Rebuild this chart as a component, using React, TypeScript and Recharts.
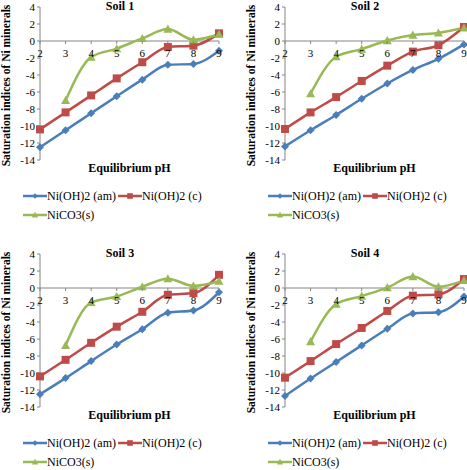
import React from 'react';
import { LineChart, Line, XAxis, YAxis, ReferenceLine, Legend } from 'recharts';

const pH = [2, 3, 4, 5, 6, 7, 8, 9];
const yTicks = [-14, -12, -10, -8, -6, -4, -2, 0, 2, 4];

const soil1Am = [-12.5, -10.5, -8.5, -6.5, -4.55, -2.8, -2.7, -1.15];
const soil1C = [-10.4, -8.4, -6.4, -4.4, -2.5, -0.7, -0.55, 0.9];
const soil1Co3 = [null, -7.0, -1.9, -0.9, 0.3, 1.4, 0.15, 0.8];

const soil2Am = [-12.4, -10.5, -8.7, -6.8, -5.0, -3.4, -2.1, -0.4];
const soil2C = [-10.35, -8.4, -6.6, -4.7, -2.9, -1.25, -0.5, 1.65];
const soil2Co3 = [null, -6.2, -1.85, -0.95, 0.05, 0.7, 0.95, 1.55];

const soil3Am = [-12.5, -10.6, -8.6, -6.65, -4.85, -2.9, -2.65, -0.5];
const soil3C = [-10.4, -8.45, -6.45, -4.55, -2.8, -0.8, -0.6, 1.55];
const soil3Co3 = [null, -6.75, -1.7, -1.0, 0.15, 1.1, 0.25, 0.8];

const soil4Am = [-12.7, -10.65, -8.7, -6.75, -4.8, -3.0, -2.85, -1.0];
const soil4C = [-10.55, -8.6, -6.6, -4.7, -2.7, -0.9, -0.75, 1.05];
const soil4Co3 = [null, -6.3, -1.9, -0.95, 0.05, 1.35, 0.15, 0.9];

const series = [
  { key: 'am', name: 'Ni(OH)2 (am)', color: '#4A7EBB', shape: 'diamond' },
  { key: 'c', name: 'Ni(OH)2 (c)', color: '#BE4B48', shape: 'square' },
  { key: 'co3', name: 'NiCO3(s)', color: '#98B954', shape: 'triangle' },
];

const soils = [
  { title: 'Soil 1', am: soil1Am, c: soil1C, co3: soil1Co3, left: 0, top: 0 },
  { title: 'Soil 2', am: soil2Am, c: soil2C, co3: soil2Co3, left: 245, top: 0 },
  { title: 'Soil 3', am: soil3Am, c: soil3C, co3: soil3Co3, left: 0, top: 247 },
  { title: 'Soil 4', am: soil4Am, c: soil4C, co3: soil4Co3, left: 245, top: 247 },
];

const FONT = '"Liberation Serif", "Times New Roman", serif';
const AXIS = '#868686';
const W = 232, H = 235;
const PLOT_TOP = 7, PLOT_H = 153;
const ZERO_Y = PLOT_TOP + (4 / 18) * PLOT_H;

function Marker({ cx, cy, shape, color, s = 1 }: any) {
  if (cx == null || cy == null) return <g />;
  if (shape === 'diamond') {
    const r = 4 * s;
    return <path d={`M${cx},${cy - r}L${cx + r},${cy}L${cx},${cy + r}L${cx - r},${cy}Z`} fill={color} />;
  }
  if (shape === 'square') {
    const r = 4 * s;
    return <rect x={cx - r} y={cy - r} width={2 * r} height={2 * r} fill={color} />;
  }
  const r = 4.5 * s;
  return <path d={`M${cx},${cy - r}L${cx + r},${cy + r * 0.8}L${cx - r},${cy + r * 0.8}Z`} fill={color} />;
}

const XTick = ({ x, payload }: any) => (
  <g>
    <line x1={x} x2={x} y1={ZERO_Y} y2={ZERO_Y + 3} stroke={AXIS} />
    <text x={x} y={ZERO_Y + 12} textAnchor="middle" dominantBaseline="central" fontSize={11} fontFamily={FONT} fill="#000">
      {payload.value}
    </text>
  </g>
);

const YTitle = ({ viewBox }: any) => {
  const cx = viewBox.x + 6;
  const cy = viewBox.y + viewBox.height / 2 + 2;
  return (
    <text x={cx} y={cy} transform={`rotate(-90, ${cx}, ${cy})`} textAnchor="middle" dominantBaseline="central"
      fontSize={11.5} fontWeight="bold" fontFamily={FONT} fill="#000">
      Saturation indices of Ni minerals
    </text>
  );
};

const renderLegend = () => (
  <div style={{ width: 210, fontFamily: FONT, fontSize: 12, lineHeight: '19px', color: '#000' }}>
    {series.map(s => (
      <span key={s.key} style={{ display: 'inline-block', whiteSpace: 'nowrap', marginRight: 2 }}>
        <svg width={24} height={10} style={{ verticalAlign: 'middle', marginTop: -2 }}>
          <line x1={0} x2={24} y1={5} y2={5} stroke={s.color} strokeWidth={2.5} />
          <Marker cx={12} cy={5} shape={s.shape} color={s.color} s={0.7} />
        </svg>
        {s.name}
      </span>
    ))}
  </div>
);

function SoilChart({ soil }: any) {
  const data = pH.map((p, i) => ({ ph: p, am: soil.am[i], c: soil.c[i], co3: soil.co3[i] }));
  return (
    <div style={{ position: 'absolute', left: soil.left, top: soil.top, width: W, height: H }}>
      <div style={{ position: 'absolute', left: 90, top: 0, width: 60, textAlign: 'center', fontFamily: FONT,
        fontWeight: 'bold', fontSize: 12, lineHeight: '12px' }}>
        {soil.title}
      </div>
      <LineChart width={W} height={H} data={data} margin={{ top: PLOT_TOP, right: 13, left: 0, bottom: 55 }}
        style={{ fontFamily: FONT }}>
        <XAxis dataKey="ph" type="number" domain={[2, 9]} ticks={pH} interval={0} axisLine={false} tickLine={false}
          tickSize={0} height={20} tick={<XTick />}
          label={{ value: 'Equilibrium pH', position: 'insideTop', offset: 3, fontSize: 12, fontWeight: 'bold', fontFamily: FONT, fill: '#000' }} />
        <YAxis domain={[-14, 4]} ticks={yTicks} interval={0} width={40} tickSize={3} tickMargin={2}
          axisLine={{ stroke: AXIS }} tickLine={{ stroke: AXIS }}
          tick={{ fontSize: 11, fontFamily: FONT, fill: '#000' }} label={<YTitle />} />
        <ReferenceLine y={0} stroke={AXIS} strokeWidth={1} />
        <Legend verticalAlign="middle" align="center" content={renderLegend}
          wrapperStyle={{ top: 187, left: 23, width: 210 }} />
        {series.map(s => (
          <Line key={s.key} dataKey={s.key} name={s.name} type="monotone" stroke={s.color} strokeWidth={2.5}
            isAnimationActive={false}
            dot={(p: any) => <Marker key={`${s.key}-${p.index}`} cx={p.cx} cy={p.cy} shape={s.shape} color={s.color} />}
            activeDot={false} />
        ))}
      </LineChart>
    </div>
  );
}

export default function App() {
  return (
    <div style={{ position: 'absolute', left: 0, top: 0, width: 467, height: 470, overflow: 'hidden', background: '#fff' }}>
      {soils.map(s => <SoilChart key={s.title} soil={s} />)}
    </div>
  );
}
